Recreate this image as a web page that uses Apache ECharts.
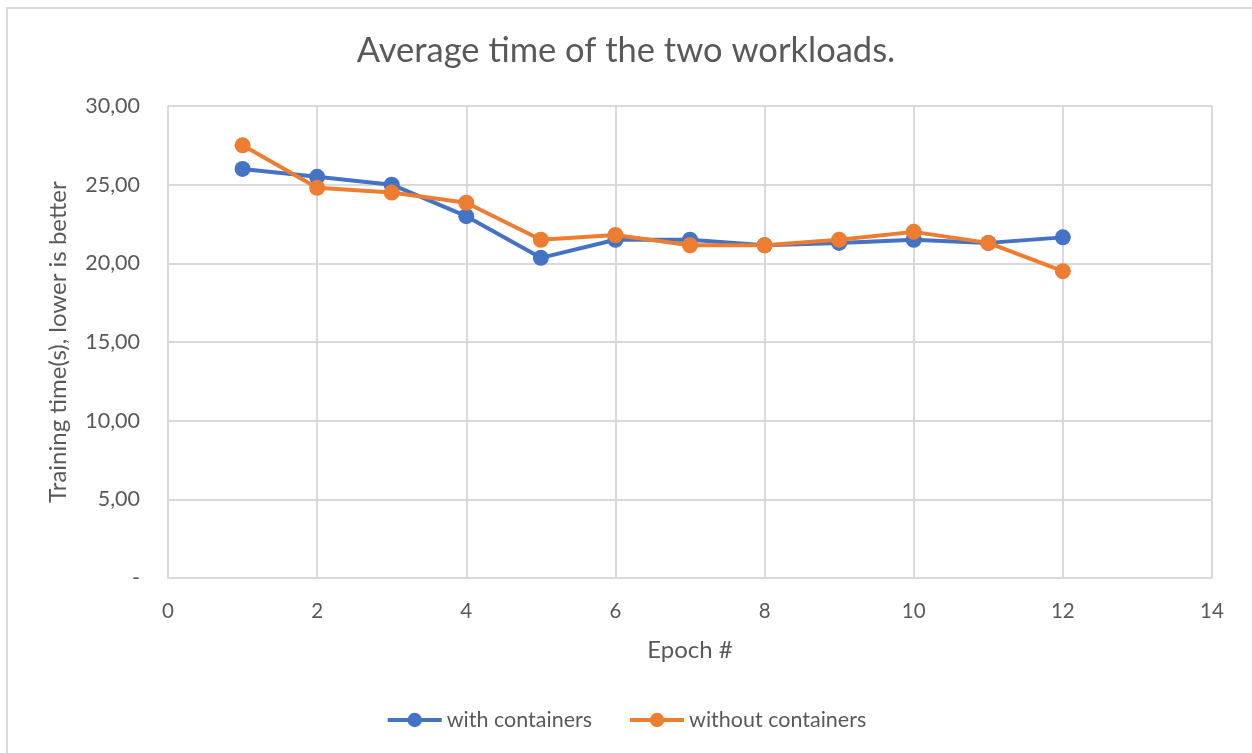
<!DOCTYPE html>
<html>
<head>
<meta charset="utf-8">
<script src="https://cdn.jsdelivr.net/npm/echarts@6/dist/echarts.min.js"></script>
<style>
  html, body { margin: 0; padding: 0; background: #fff; }
  #frame { position: absolute; left: 6px; top: 7px; width: 1260px; height: 760px;
           border-left: 2px solid #d9d9d9; border-top: 2px solid #d9d9d9; box-sizing: border-box; }
  #chart { position: absolute; left: 0; top: 0; width: 1252px; height: 753px; }
</style>
</head>
<body>
<div id="frame"></div>
<div id="chart"></div>
<script>
// Epoch numbers and average training times (seconds)
const epochs = [1, 2, 3, 4, 5, 6, 7, 8, 9, 10, 11, 12];
const withContainers = [26.0, 25.5, 25.0, 23.0, 20.35, 21.5, 21.5, 21.15, 21.3, 21.5, 21.3, 21.65];
const withoutContainers = [27.5, 24.8, 24.5, 23.85, 21.5, 21.8, 21.15, 21.15, 21.5, 22.0, 21.3, 19.5];
const yTickLabels = { 0: '-', 5: '5,00', 10: '10,00', 15: '15,00', 20: '20,00', 25: '25,00', 30: '30,00' };

const FONT = 'Lato';
const TEXT = '#595959';
const GRID = '#d9d9d9';

const pairs = (vals) => epochs.map((e, i) => [e, vals[i]]);

const chart = echarts.init(document.getElementById('chart'), null, { renderer: 'canvas' });
chart.setOption({
  backgroundColor: 'transparent',
  animation: false,
  textStyle: { fontFamily: FONT },
  title: {
    text: 'Average time of the two workloads.',
    left: 'center',
    top: 28,
    textStyle: { fontFamily: FONT, fontSize: 34.5, fontWeight: 'normal', color: TEXT }
  },
  legend: {
    bottom: 17,
    left: 'center',
    itemWidth: 54,
    itemHeight: 18,
    itemGap: 36,
    lineStyle: { width: 4 },
    textStyle: { fontFamily: FONT, fontSize: 21.5, color: TEXT },
    data: ['with containers', 'without containers']
  },
  grid: { left: 168, right: 40, top: 106, bottom: 175 },
  xAxis: {
    type: 'value',
    min: 0, max: 14, interval: 2,
    name: 'Epoch #',
    nameLocation: 'middle',
    nameGap: 60,
    nameTextStyle: { fontFamily: FONT, fontSize: 24, color: TEXT },
    axisLine: { show: true, lineStyle: { color: GRID, width: 2 } },
    axisTick: { show: false },
    axisLabel: { fontFamily: FONT, fontSize: 20.5, color: TEXT, margin: 23 },
    splitLine: { show: true, lineStyle: { color: GRID, width: 2 } }
  },
  yAxis: {
    type: 'value',
    min: 0, max: 30, interval: 5,
    name: 'Training time(s), lower is better',
    nameLocation: 'middle',
    nameGap: 98,
    nameRotate: 90,
    nameTextStyle: { fontFamily: FONT, fontSize: 24, color: TEXT },
    axisLine: { show: false },
    axisTick: { show: false },
    axisLabel: {
      fontFamily: FONT, fontSize: 21.5, color: TEXT, margin: 28,
      formatter: (v) => yTickLabels[v] !== undefined ? yTickLabels[v] : ''
    },
    splitLine: { show: true, lineStyle: { color: GRID, width: 2 } }
  },
  series: [
    {
      name: 'with containers',
      type: 'line',
      data: pairs(withContainers),
      color: '#4472C4',
      symbol: 'circle',
      symbolSize: 16,
      lineStyle: { width: 4, color: '#4472C4' },
      itemStyle: { color: '#4472C4' },
      z: 2
    },
    {
      name: 'without containers',
      type: 'line',
      data: pairs(withoutContainers),
      color: '#ED7D31',
      symbol: 'circle',
      symbolSize: 16,
      lineStyle: { width: 4, color: '#ED7D31' },
      itemStyle: { color: '#ED7D31' },
      z: 3
    }
  ]
});
</script>
</body>
</html>
